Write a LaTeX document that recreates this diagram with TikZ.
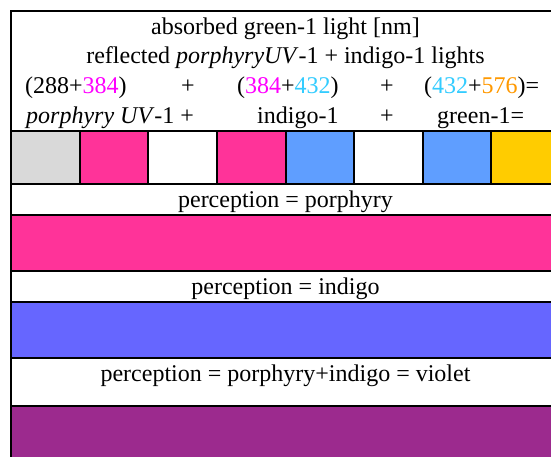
\documentclass[tikz,border=0pt]{standalone}
\usepackage{fontspec}
\setmainfont{Liberation Serif}
\definecolor{cmag}{HTML}{FF00FF}
\definecolor{ccyan}{HTML}{33CCFF}
\definecolor{corange}{HTML}{FF9900}
\definecolor{cgray}{HTML}{D9D9D9}
\definecolor{cpink}{HTML}{FF3399}
\definecolor{cblue}{HTML}{5F9EFF}
\definecolor{cgold}{HTML}{FFCC00}
\definecolor{cindigo}{HTML}{6666FF}
\definecolor{cviolet}{HTML}{9C2A8E}
\begin{document}
\begin{tikzpicture}[x=1pt,y=-1pt,
  txt/.style={inner sep=0pt, font=\fontsize{24}{29}\selectfont, anchor=base},
  txtw/.style={txt, anchor=base west},
  rule/.style={line width=2pt, black}]
\useasboundingbox (0,0) rectangle (551,456);
\clip (0,0) rectangle (551,456);
\fill[white] (0,0) rectangle (551,456);
% swatches
\def\cw{68.625}
\foreach \c [count=\i from 0] in {cgray,cpink,white,cpink,cblue,white,cblue,cgold}{
  \fill[\c] (11+\i*\cw,131) rectangle (11+\i*\cw+\cw,184);
}
% bands
\fill[cpink] (11,215) rectangle (560,271);
\fill[cindigo] (11,302) rectangle (560,358);
\fill[cviolet] (11,406) rectangle (560,470);
% rules
\foreach \y in {131,184,215,271,302,358,406}{
  \draw[rule] (11,\y) -- (560,\y);
}
\foreach \i in {1,...,7}{
  \draw[rule] (11+\i*\cw,131) -- (11+\i*\cw,184);
}
\draw[rule] (11,470) -- (11,11) -- (560,11);
% texts
\node[txt] (t1) at (285.5,34) {absorbed green-1 light [nm]};
\node[txt] (t2) at (285.5,63) {reflected \textit{porphyryUV}-1 + indigo-1 lights};
\node[txtw] (a1) at (25,93) {(288+\textcolor{cmag}{384})};
\node[txt] (p1) at (188,93) {+};
\node[txtw] (a2) at (237,93) {(\textcolor{cmag}{384}+\textcolor{ccyan}{432})};
\node[txt] (p2) at (387,93) {+};
\node[txtw] (a3) at (424,93) {(\textcolor{ccyan}{432}+\textcolor{corange}{576})=};
\node[txtw] (b1) at (26,123) {\textit{porphyry UV}-1 +};
\node[txtw] (b2) at (257,123) {indigo-1};
\node[txt] (p3) at (387,123) {+};
\node[txtw] (b3) at (437,123) {green-1=};
\node[txt] (r1) at (285.5,207) {perception = porphyry};
\node[txt] (r2) at (285.5,294) {perception = indigo};
\node[txt] (r3) at (285.5,381) {perception = porphyry+indigo = violet};
\end{tikzpicture}
\end{document}
